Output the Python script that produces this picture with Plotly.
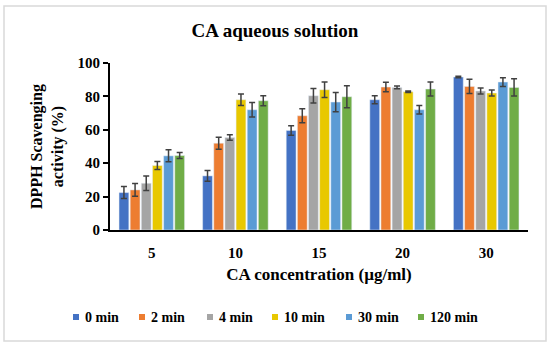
import plotly.graph_objects as go

categories = ["5", "10", "15", "20", "30"]
series_names = ["0 min", "2 min", "4 min", "10 min", "30 min", "120 min"]
values = {
    "0 min":   [22.4, 32.4, 59.6, 78.0, 91.6],
    "2 min":   [24.0, 52.0, 68.4, 85.6, 86.0],
    "4 min":   [28.0, 55.4, 80.4, 85.4, 83.2],
    "10 min":  [38.6, 78.0, 84.0, 82.8, 82.0],
    "30 min":  [44.4, 72.0, 76.6, 72.0, 88.6],
    "120 min": [44.6, 77.4, 79.8, 84.4, 85.4],
}
errors = {
    "0 min":   [3.6, 3.2, 2.8, 2.4, 0.4],
    "2 min":   [3.8, 3.6, 4.2, 2.8, 4.2],
    "4 min":   [4.4, 1.6, 4.4, 0.8, 1.8],
    "10 min":  [2.4, 3.4, 4.6, 0.5, 1.8],
    "30 min":  [3.6, 4.4, 5.8, 2.6, 2.6],
    "120 min": [1.8, 3.0, 6.6, 4.2, 5.2],
}
colors = ["#4472C4", "#ED7D31", "#A5A5A5", "#E8C800", "#5B9BD5", "#70AD47"]

font_family = "Liberation Serif"

# layout geometry (pixels)
W, H = 550, 346
L, R, T, B = 110, 22, 63, 116
PW, PH = W - L - R, H - T - B

def px_x(x):
    return (x - L) / PW

def px_y(y):
    return (H - B - y) / PH

fig = go.Figure()
for name, col in zip(series_names, colors):
    fig.add_trace(go.Bar(
        x=categories, y=values[name], name=name, marker_color=col,
        error_y=dict(type="data", array=errors[name], visible=True,
                     color="#404040", thickness=1.5, width=3),
        showlegend=False,
    ))

fig.update_layout(
    width=W, height=H,
    margin=dict(l=L, r=R, t=T, b=B),
    paper_bgcolor="white", plot_bgcolor="white",
    barmode="group", bargap=0.2, bargroupgap=0.12,
    font=dict(family=font_family, color="black", weight="bold"),
    title=dict(text="CA aqueous solution", x=0.5, xanchor="center",
               y=1 - 30 / H, yanchor="middle",
               font=dict(size=19, family=font_family, weight="bold")),
    xaxis=dict(type="category", showline=True, linecolor="black", linewidth=2,
               ticks="", ticklabelstandoff=8,
               tickfont=dict(size=15, family=font_family, weight="bold"),
               title=dict(text="CA concentration (µg/ml)",
                          font=dict(size=17, family=font_family, weight="bold"), standoff=8)),
    yaxis=dict(range=[0, 100], dtick=20, showline=True, linecolor="black", linewidth=2,
               ticks="outside", ticklen=5, tickwidth=2, tickcolor="black", showgrid=False,
               tickfont=dict(size=15, family=font_family, weight="bold"),
               title=dict(text="DPPH Scavenging<br>activity (%)",
                          font=dict(size=16, family=font_family, weight="bold"), standoff=10)),
    showlegend=False,
)

# manual legend (Excel style: small square + label)
legend_sq_x = [73, 139, 207, 272, 346, 418]
legend_y = 317
for name, col, sx in zip(series_names, colors, legend_sq_x):
    fig.add_shape(type="rect", xref="paper", yref="paper",
                  x0=px_x(sx), x1=px_x(sx + 6), y0=px_y(legend_y + 3), y1=px_y(legend_y - 3),
                  fillcolor=col, line=dict(width=0))
    fig.add_annotation(xref="paper", yref="paper", x=px_x(sx + 10), y=px_y(legend_y),
                       xanchor="left", yanchor="middle", text=name, showarrow=False,
                       font=dict(size=14, family=font_family, weight="bold", color="black"))

fig.add_shape(type="rect", xref="paper", yref="paper",
              x0=px_x(4), x1=px_x(546), y0=px_y(341), y1=px_y(6),
              line=dict(color="#D9D9D9", width=1.5), layer="below")

fig.write_html("out.html", config={"displayModeBar": False},
               post_script="document.body.style.margin='0';")
